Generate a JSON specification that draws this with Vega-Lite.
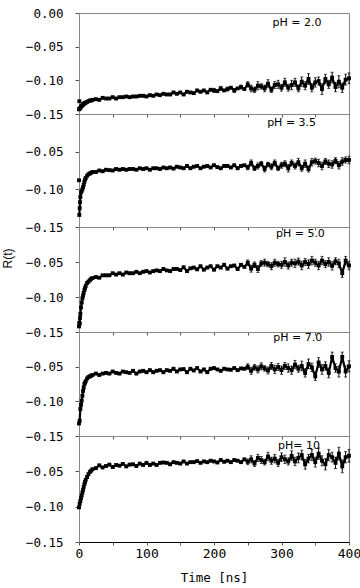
{
"$schema":"https://vega.github.io/schema/vega-lite/v6.json",
"padding":{"left":0,"top":6,"right":0,"bottom":0},
"bounds":"flush",
"spacing":0,
"config":{
 "view":{"stroke":"#888","strokeWidth":1},
 "axis":{"labelFont":"DejaVu Sans Mono","labelColor":"#000","titleFont":"DejaVu Sans Mono","titleFontWeight":"normal","titleColor":"#000","grid":false,"tickColor":"#555","domainColor":"#000"}
},
"datasets":{
"p1":[{"t":0,"r":-0.143},{"t":0.5,"r":-0.131,"o":1},{"t":1,"r":-0.142},{"t":2,"r":-0.141},{"t":3,"r":-0.139},{"t":4,"r":-0.138},{"t":5,"r":-0.137},{"t":6,"r":-0.136},{"t":7,"r":-0.135},{"t":8,"r":-0.134},{"t":9,"r":-0.134},{"t":10,"r":-0.133},{"t":12,"r":-0.132},{"t":14,"r":-0.131},{"t":16,"r":-0.130},{"t":18,"r":-0.130},{"t":20,"r":-0.129},
{"t":25,"r":-0.128},{"t":30,"r":-0.129},{"t":35,"r":-0.126},{"t":40,"r":-0.127},{"t":45,"r":-0.127},{"t":50,"r":-0.125},{"t":55,"r":-0.127},{"t":60,"r":-0.125},{"t":65,"r":-0.125},{"t":70,"r":-0.124},{"t":75,"r":-0.125},{"t":80,"r":-0.124},{"t":85,"r":-0.124},{"t":90,"r":-0.123},{"t":95,"r":-0.123},{"t":100,"r":-0.124},{"t":105,"r":-0.122},{"t":110,"r":-0.123},{"t":115,"r":-0.121},{"t":120,"r":-0.122},{"t":125,"r":-0.120},{"t":130,"r":-0.121},{"t":135,"r":-0.121},{"t":140,"r":-0.118},{"t":145,"r":-0.120},{"t":150,"r":-0.118},{"t":155,"r":-0.121},{"t":160,"r":-0.117},{"t":165,"r":-0.118},{"t":170,"r":-0.119},{"t":175,"r":-0.115},{"t":180,"r":-0.117},{"t":185,"r":-0.115},{"t":190,"r":-0.118},{"t":195,"r":-0.114},{"t":200,"r":-0.115,"e":0.003},{"t":205,"r":-0.116},{"t":210,"r":-0.112,"e":0.003},{"t":215,"r":-0.115},{"t":220,"r":-0.113,"e":0.003},{"t":225,"r":-0.111},{"t":230,"r":-0.115,"e":0.003},{"t":235,"r":-0.112},{"t":240,"r":-0.110,"e":0.003},{"t":245,"r":-0.113},
{"t":250,"r":-0.106,"e":0.004},{"t":255,"r":-0.112,"e":0.005},{"t":260,"r":-0.114,"e":0.004},{"t":265,"r":-0.108,"e":0.006},{"t":270,"r":-0.109,"e":0.004},{"t":275,"r":-0.112,"e":0.005},{"t":280,"r":-0.105,"e":0.006},{"t":285,"r":-0.114,"e":0.004},{"t":290,"r":-0.107,"e":0.005},{"t":295,"r":-0.106,"e":0.006},{"t":300,"r":-0.111,"e":0.005},{"t":305,"r":-0.103,"e":0.006},{"t":310,"r":-0.111,"e":0.005},{"t":315,"r":-0.107,"e":0.007},{"t":320,"r":-0.103,"e":0.006},{"t":325,"r":-0.112,"e":0.005},{"t":330,"r":-0.102,"e":0.007},{"t":335,"r":-0.108,"e":0.006},{"t":340,"r":-0.098,"e":0.008},{"t":345,"r":-0.111,"e":0.006},{"t":350,"r":-0.103,"e":0.007},{"t":355,"r":-0.101,"e":0.006},{"t":360,"r":-0.113,"e":0.008},{"t":365,"r":-0.098,"e":0.007},{"t":370,"r":-0.106,"e":0.006},{"t":375,"r":-0.096,"e":0.008},{"t":380,"r":-0.110,"e":0.007},{"t":385,"r":-0.102,"e":0.009},{"t":390,"r":-0.111,"e":0.007},{"t":395,"r":-0.099,"e":0.008},{"t":400,"r":-0.097,"e":0.008}],
"p2":[{"t":0,"r":-0.088,"o":1},{"t":0.5,"r":-0.134},{"t":1,"r":-0.125},{"t":1.5,"r":-0.117},{"t":2,"r":-0.110},{"t":3,"r":-0.104},{"t":4,"r":-0.102},{"t":5,"r":-0.100},{"t":6,"r":-0.097},{"t":7,"r":-0.094},{"t":8,"r":-0.090},{"t":9,"r":-0.087},{"t":10,"r":-0.085},{"t":12,"r":-0.082},{"t":14,"r":-0.080},{"t":16,"r":-0.079},{"t":18,"r":-0.078},{"t":20,"r":-0.077},
{"t":25,"r":-0.077},{"t":30,"r":-0.075},{"t":35,"r":-0.076},{"t":40,"r":-0.074},{"t":45,"r":-0.0745},{"t":50,"r":-0.075},{"t":55,"r":-0.073},{"t":60,"r":-0.074},{"t":65,"r":-0.073},{"t":70,"r":-0.074},{"t":75,"r":-0.073},{"t":80,"r":-0.073},{"t":85,"r":-0.074},{"t":90,"r":-0.072},{"t":95,"r":-0.073},{"t":100,"r":-0.072},{"t":105,"r":-0.074},{"t":110,"r":-0.072},{"t":115,"r":-0.072},{"t":120,"r":-0.073},{"t":125,"r":-0.071},{"t":130,"r":-0.072},{"t":135,"r":-0.071},{"t":140,"r":-0.0725},{"t":145,"r":-0.070},{"t":150,"r":-0.071},{"t":155,"r":-0.072},{"t":160,"r":-0.069},{"t":165,"r":-0.072},{"t":170,"r":-0.070},{"t":175,"r":-0.069},{"t":180,"r":-0.072},{"t":185,"r":-0.070},{"t":190,"r":-0.069},{"t":195,"r":-0.071},{"t":200,"r":-0.068},{"t":205,"r":-0.0705},{"t":210,"r":-0.072},{"t":215,"r":-0.069},{"t":220,"r":-0.069},{"t":225,"r":-0.071},{"t":230,"r":-0.068},{"t":235,"r":-0.072},{"t":240,"r":-0.069},{"t":245,"r":-0.068},
{"t":250,"r":-0.071,"e":0.003},{"t":255,"r":-0.065,"e":0.004},{"t":260,"r":-0.072,"e":0.003},{"t":265,"r":-0.069,"e":0.004},{"t":270,"r":-0.066,"e":0.003},{"t":275,"r":-0.073,"e":0.004},{"t":280,"r":-0.067,"e":0.003},{"t":285,"r":-0.070,"e":0.004},{"t":290,"r":-0.065,"e":0.004},{"t":295,"r":-0.072,"e":0.003},{"t":300,"r":-0.068,"e":0.004},{"t":305,"r":-0.066,"e":0.004},{"t":310,"r":-0.072,"e":0.005},{"t":315,"r":-0.065,"e":0.004},{"t":320,"r":-0.069,"e":0.004},{"t":325,"r":-0.064,"e":0.005},{"t":330,"r":-0.072,"e":0.004},{"t":335,"r":-0.066,"e":0.005},{"t":340,"r":-0.073,"e":0.004},{"t":345,"r":-0.064,"e":0.005},{"t":350,"r":-0.0625,"e":0.004},{"t":355,"r":-0.065,"e":0.005},{"t":360,"r":-0.069,"e":0.005},{"t":365,"r":-0.063,"e":0.004},{"t":370,"r":-0.066,"e":0.005},{"t":375,"r":-0.067,"e":0.005},{"t":380,"r":-0.062,"e":0.004},{"t":385,"r":-0.068,"e":0.005},{"t":390,"r":-0.063,"e":0.005},{"t":395,"r":-0.061,"e":0.004},{"t":400,"r":-0.061,"e":0.005}],
"p3":[{"t":0,"r":-0.142},{"t":0.5,"r":-0.137},{"t":1,"r":-0.138},{"t":1.5,"r":-0.130},{"t":2,"r":-0.124},{"t":3,"r":-0.115},{"t":4,"r":-0.108},{"t":5,"r":-0.102},{"t":6,"r":-0.098},{"t":7,"r":-0.094},{"t":8,"r":-0.090},{"t":9,"r":-0.087},{"t":10,"r":-0.084},{"t":12,"r":-0.080},{"t":14,"r":-0.078},{"t":16,"r":-0.076},{"t":18,"r":-0.074},{"t":20,"r":-0.073},
{"t":25,"r":-0.0715},{"t":30,"r":-0.0725},{"t":35,"r":-0.069},{"t":40,"r":-0.069},{"t":45,"r":-0.069},{"t":50,"r":-0.066},{"t":55,"r":-0.068},{"t":60,"r":-0.066},{"t":65,"r":-0.068},{"t":70,"r":-0.065},{"t":75,"r":-0.066},{"t":80,"r":-0.066},{"t":85,"r":-0.064},{"t":90,"r":-0.066},{"t":95,"r":-0.064},{"t":100,"r":-0.063},{"t":105,"r":-0.065},{"t":110,"r":-0.063},{"t":115,"r":-0.062},{"t":120,"r":-0.063},{"t":125,"r":-0.060},{"t":130,"r":-0.062},{"t":135,"r":-0.063},{"t":140,"r":-0.060},{"t":145,"r":-0.060},{"t":150,"r":-0.0615},{"t":155,"r":-0.0575},{"t":160,"r":-0.063},{"t":165,"r":-0.059},{"t":170,"r":-0.058},{"t":175,"r":-0.0605},{"t":180,"r":-0.056},{"t":185,"r":-0.061},{"t":190,"r":-0.058},{"t":195,"r":-0.056},{"t":200,"r":-0.061},{"t":205,"r":-0.056},{"t":210,"r":-0.058},{"t":215,"r":-0.054},{"t":220,"r":-0.0595},{"t":225,"r":-0.056},{"t":230,"r":-0.055},{"t":235,"r":-0.060},{"t":240,"r":-0.054},{"t":245,"r":-0.057},
{"t":250,"r":-0.051,"e":0.004},{"t":255,"r":-0.0595,"e":0.005},{"t":260,"r":-0.054,"e":0.004},{"t":265,"r":-0.060,"e":0.005},{"t":270,"r":-0.052,"e":0.004},{"t":275,"r":-0.051,"e":0.005},{"t":280,"r":-0.053,"e":0.004},{"t":285,"r":-0.056,"e":0.005},{"t":290,"r":-0.051,"e":0.005},{"t":295,"r":-0.053,"e":0.004},{"t":300,"r":-0.054,"e":0.005},{"t":305,"r":-0.050,"e":0.006},{"t":310,"r":-0.055,"e":0.005},{"t":315,"r":-0.051,"e":0.005},{"t":320,"r":-0.052,"e":0.006},{"t":325,"r":-0.0495,"e":0.005},{"t":330,"r":-0.055,"e":0.006},{"t":335,"r":-0.050,"e":0.005},{"t":340,"r":-0.053,"e":0.006},{"t":345,"r":-0.048,"e":0.006},{"t":350,"r":-0.051,"e":0.005},{"t":355,"r":-0.055,"e":0.006},{"t":360,"r":-0.048,"e":0.006},{"t":365,"r":-0.053,"e":0.005},{"t":370,"r":-0.050,"e":0.006},{"t":375,"r":-0.0555,"e":0.006},{"t":380,"r":-0.049,"e":0.005},{"t":385,"r":-0.052,"e":0.006},{"t":390,"r":-0.066,"e":0.006},{"t":395,"r":-0.048,"e":0.006},{"t":400,"r":-0.055,"e":0.006}],
"p4":[{"t":0,"r":-0.132},{"t":1,"r":-0.128},{"t":2,"r":-0.111},{"t":3,"r":-0.105},{"t":4,"r":-0.099},{"t":5,"r":-0.092},{"t":6,"r":-0.085},{"t":7,"r":-0.080},{"t":8,"r":-0.075},{"t":9,"r":-0.073},{"t":10,"r":-0.071},{"t":12,"r":-0.067},{"t":14,"r":-0.065},{"t":16,"r":-0.064},{"t":18,"r":-0.063},{"t":20,"r":-0.062},
{"t":25,"r":-0.060},{"t":30,"r":-0.062},{"t":35,"r":-0.060},{"t":40,"r":-0.059},{"t":45,"r":-0.060},{"t":50,"r":-0.057},{"t":55,"r":-0.059},{"t":60,"r":-0.060},{"t":65,"r":-0.057},{"t":70,"r":-0.058},{"t":75,"r":-0.059},{"t":80,"r":-0.056},{"t":85,"r":-0.060},{"t":90,"r":-0.057},{"t":95,"r":-0.056},{"t":100,"r":-0.058},{"t":105,"r":-0.055},{"t":110,"r":-0.058},{"t":115,"r":-0.056},{"t":120,"r":-0.055},{"t":125,"r":-0.058},{"t":130,"r":-0.055},{"t":135,"r":-0.056},{"t":140,"r":-0.053},{"t":145,"r":-0.057},{"t":150,"r":-0.054},{"t":155,"r":-0.0535},{"t":160,"r":-0.058},{"t":165,"r":-0.053},{"t":170,"r":-0.0555},{"t":175,"r":-0.052},{"t":180,"r":-0.057},{"t":185,"r":-0.054},{"t":190,"r":-0.058},{"t":195,"r":-0.053},{"t":200,"r":-0.052},{"t":205,"r":-0.054},{"t":210,"r":-0.056},{"t":215,"r":-0.053},{"t":220,"r":-0.054},{"t":225,"r":-0.0545},{"t":230,"r":-0.052},{"t":235,"r":-0.055},{"t":240,"r":-0.0525},{"t":245,"r":-0.053},
{"t":250,"r":-0.050,"e":0.004},{"t":255,"r":-0.056,"e":0.005},{"t":260,"r":-0.051,"e":0.004},{"t":265,"r":-0.054,"e":0.005},{"t":270,"r":-0.0495,"e":0.005},{"t":275,"r":-0.0525,"e":0.004},{"t":280,"r":-0.0555,"e":0.005},{"t":285,"r":-0.049,"e":0.005},{"t":290,"r":-0.054,"e":0.006},{"t":295,"r":-0.0505,"e":0.005},{"t":300,"r":-0.055,"e":0.006},{"t":305,"r":-0.049,"e":0.005},{"t":310,"r":-0.052,"e":0.006},{"t":315,"r":-0.055,"e":0.006},{"t":320,"r":-0.047,"e":0.006},{"t":325,"r":-0.053,"e":0.005},{"t":330,"r":-0.049,"e":0.007},{"t":335,"r":-0.059,"e":0.006},{"t":340,"r":-0.046,"e":0.007},{"t":345,"r":-0.051,"e":0.006},{"t":350,"r":-0.064,"e":0.006},{"t":355,"r":-0.044,"e":0.007},{"t":360,"r":-0.054,"e":0.007},{"t":365,"r":-0.049,"e":0.006},{"t":370,"r":-0.059,"e":0.007},{"t":375,"r":-0.036,"e":0.007},{"t":380,"r":-0.052,"e":0.006},{"t":385,"r":-0.057,"e":0.008},{"t":390,"r":-0.036,"e":0.007},{"t":395,"r":-0.057,"e":0.008},{"t":400,"r":-0.0495,"e":0.008}],
"p5":[{"t":0,"r":-0.101},{"t":1,"r":-0.096},{"t":2,"r":-0.092},{"t":3,"r":-0.088},{"t":4,"r":-0.084},{"t":5,"r":-0.080},{"t":6,"r":-0.076},{"t":7,"r":-0.072},{"t":8,"r":-0.068},{"t":9,"r":-0.065},{"t":10,"r":-0.062},{"t":12,"r":-0.058},{"t":14,"r":-0.054},{"t":16,"r":-0.051},{"t":18,"r":-0.049},{"t":20,"r":-0.047},
{"t":25,"r":-0.0455},{"t":30,"r":-0.0415},{"t":35,"r":-0.0445},{"t":40,"r":-0.0425},{"t":45,"r":-0.0405},{"t":50,"r":-0.044},{"t":55,"r":-0.041},{"t":60,"r":-0.042},{"t":65,"r":-0.0395},{"t":70,"r":-0.043},{"t":75,"r":-0.0405},{"t":80,"r":-0.040},{"t":85,"r":-0.0425},{"t":90,"r":-0.039},{"t":95,"r":-0.041},{"t":100,"r":-0.038},{"t":105,"r":-0.041},{"t":110,"r":-0.039},{"t":115,"r":-0.041},{"t":120,"r":-0.038},{"t":125,"r":-0.0375},{"t":130,"r":-0.038},{"t":135,"r":-0.040},{"t":140,"r":-0.037},{"t":145,"r":-0.038},{"t":150,"r":-0.039},{"t":155,"r":-0.036},{"t":160,"r":-0.039},{"t":165,"r":-0.037},{"t":170,"r":-0.037},{"t":175,"r":-0.0355},{"t":180,"r":-0.038},{"t":185,"r":-0.036},{"t":190,"r":-0.037},{"t":195,"r":-0.035},{"t":200,"r":-0.036},{"t":205,"r":-0.0375},{"t":210,"r":-0.034},{"t":215,"r":-0.0365},{"t":220,"r":-0.035},{"t":225,"r":-0.037},{"t":230,"r":-0.034},{"t":235,"r":-0.035},{"t":240,"r":-0.037},{"t":245,"r":-0.033},
{"t":250,"r":-0.0365,"e":0.004},{"t":255,"r":-0.033,"e":0.005},{"t":260,"r":-0.039,"e":0.004},{"t":265,"r":-0.031,"e":0.005},{"t":270,"r":-0.034,"e":0.005},{"t":275,"r":-0.037,"e":0.004},{"t":280,"r":-0.029,"e":0.006},{"t":285,"r":-0.035,"e":0.005},{"t":290,"r":-0.032,"e":0.006},{"t":295,"r":-0.038,"e":0.005},{"t":300,"r":-0.030,"e":0.006},{"t":305,"r":-0.033,"e":0.006},{"t":310,"r":-0.036,"e":0.005},{"t":315,"r":-0.028,"e":0.007},{"t":320,"r":-0.036,"e":0.006},{"t":325,"r":-0.031,"e":0.007},{"t":330,"r":-0.027,"e":0.007},{"t":335,"r":-0.040,"e":0.007},{"t":340,"r":-0.032,"e":0.006},{"t":345,"r":-0.027,"e":0.008},{"t":350,"r":-0.037,"e":0.007},{"t":355,"r":-0.025,"e":0.008},{"t":360,"r":-0.035,"e":0.007},{"t":365,"r":-0.040,"e":0.008},{"t":370,"r":-0.027,"e":0.008},{"t":375,"r":-0.030,"e":0.007},{"t":380,"r":-0.038,"e":0.008},{"t":385,"r":-0.025,"e":0.009},{"t":390,"r":-0.043,"e":0.009},{"t":395,"r":-0.030,"e":0.008},{"t":400,"r":-0.028,"e":0.009}]
},
"vconcat":[
{"width":270,"height":101,"data":{"name":"p1"},
 "encoding":{"x":{"field":"t","type":"quantitative","scale":{"domain":[0,400],"nice":false},"axis":{"values":[0,50,100,150,200,250,300,350,400],"labels":false,"title":null,"tickSize":3}},
  "y":{"field":"r","type":"quantitative","scale":{"domain":[-0.15,0],"nice":false},"axis":{"values":[-0.15,-0.1,-0.05,0],"format":".2f","labelFontSize":12.5,"tickSize":4,"labelPadding":12,"title":null,"domainColor":"#888"}}},
 "layer":[
  {"transform":[{"filter":"isValid(datum.e)"}],"mark":{"type":"errorbar","color":"#000","ticks":{"size":3,"color":"#000"}},"encoding":{"yError":{"field":"e"}}},
  {"transform":[{"filter":"!isValid(datum.o)"}],"mark":{"type":"line","color":"#000","strokeWidth":2.2}},
  {"mark":{"type":"square","color":"#000","size":15,"opacity":1,"strokeWidth":0}},
  {"data":{"values":[{"t":323,"r":-0.015,"label":"pH = 2.0"}]},"mark":{"type":"text","font":"DejaVu Sans","fontSize":11,"color":"#000"},"encoding":{"text":{"field":"label"}}}
 ]},
{"width":270,"height":113,"data":{"name":"p2"},
 "encoding":{"x":{"field":"t","type":"quantitative","scale":{"domain":[0,400],"nice":false},"axis":{"values":[0,50,100,150,200,250,300,350,400],"labels":false,"title":null,"tickSize":3}},
  "y":{"field":"r","type":"quantitative","scale":{"domain":[-0.15,0],"nice":false},"axis":{"values":[-0.15,-0.1,-0.05],"format":".2f","labelFontSize":12.5,"tickSize":4,"labelPadding":12,"title":null,"domainColor":"#888"}}},
 "layer":[
  {"transform":[{"filter":"isValid(datum.e)"}],"mark":{"type":"errorbar","color":"#000","ticks":{"size":3,"color":"#000"}},"encoding":{"yError":{"field":"e"}}},
  {"transform":[{"filter":"!isValid(datum.o)"}],"mark":{"type":"line","color":"#000","strokeWidth":2.2}},
  {"mark":{"type":"square","color":"#000","size":15,"opacity":1,"strokeWidth":0}},
  {"data":{"values":[{"t":315,"r":-0.012,"label":"pH = 3.5"}]},"mark":{"type":"text","font":"DejaVu Sans","fontSize":11,"color":"#000"},"encoding":{"text":{"field":"label"}}}
 ]},
{"width":270,"height":105,"data":{"name":"p3"},
 "encoding":{"x":{"field":"t","type":"quantitative","scale":{"domain":[0,400],"nice":false},"axis":{"values":[0,50,100,150,200,250,300,350,400],"labels":false,"title":null,"tickSize":3}},
  "y":{"field":"r","type":"quantitative","scale":{"domain":[-0.15,0],"nice":false},"axis":{"values":[-0.15,-0.1,-0.05],"format":".2f","labelFontSize":12.5,"tickSize":4,"labelPadding":12,"title":"R(t)","titleFont":"Liberation Sans","titleFontSize":12,"titleX":-72,"titleY":31,"titleBaseline":"middle","titleAngle":-90,"domainColor":"#888"}}},
 "layer":[
  {"transform":[{"filter":"isValid(datum.e)"}],"mark":{"type":"errorbar","color":"#000","ticks":{"size":3,"color":"#000"}},"encoding":{"yError":{"field":"e"}}},
  {"transform":[{"filter":"!isValid(datum.o)"}],"mark":{"type":"line","color":"#000","strokeWidth":2.2}},
  {"mark":{"type":"square","color":"#000","size":15,"opacity":1,"strokeWidth":0}},
  {"data":{"values":[{"t":328,"r":-0.010,"label":"pH = 5.0"}]},"mark":{"type":"text","font":"DejaVu Sans","fontSize":11,"color":"#000"},"encoding":{"text":{"field":"label"}}}
 ]},
{"width":270,"height":104,"data":{"name":"p4"},
 "encoding":{"x":{"field":"t","type":"quantitative","scale":{"domain":[0,400],"nice":false},"axis":{"values":[0,50,100,150,200,250,300,350,400],"labels":false,"title":null,"tickSize":3}},
  "y":{"field":"r","type":"quantitative","scale":{"domain":[-0.15,0],"nice":false},"axis":{"values":[-0.15,-0.1,-0.05],"format":".2f","labelFontSize":12.5,"tickSize":4,"labelPadding":12,"title":null,"domainColor":"#888"}}},
 "layer":[
  {"transform":[{"filter":"isValid(datum.e)"}],"mark":{"type":"errorbar","color":"#000","ticks":{"size":3,"color":"#000"}},"encoding":{"yError":{"field":"e"}}},
  {"transform":[{"filter":"!isValid(datum.o)"}],"mark":{"type":"line","color":"#000","strokeWidth":2.2}},
  {"mark":{"type":"square","color":"#000","size":15,"opacity":1,"strokeWidth":0}},
  {"data":{"values":[{"t":324,"r":-0.009,"label":"pH = 7.0"}]},"mark":{"type":"text","font":"DejaVu Sans","fontSize":11,"color":"#000"},"encoding":{"text":{"field":"label"}}}
 ]},
{"width":270,"height":106,"data":{"name":"p5"},
 "encoding":{"x":{"field":"t","type":"quantitative","scale":{"domain":[0,400],"nice":false},"axis":{"values":[0,50,100,150,200,250,300,350,400],"labelExpr":"datum.value % 100 == 0 ? datum.label : ''","labelFlush":false,"labelFontSize":13,"tickSize":3,"labelPadding":2,"title":"Time [ns]","titleFontSize":12.5,"titlePadding":11}},
  "y":{"field":"r","type":"quantitative","scale":{"domain":[-0.15,0],"nice":false},"axis":{"values":[-0.15,-0.1,-0.05],"format":".2f","labelFontSize":12.5,"tickSize":4,"labelPadding":12,"title":null,"domainColor":"#888"}}},
 "layer":[
  {"transform":[{"filter":"isValid(datum.e)"}],"mark":{"type":"errorbar","color":"#000","ticks":{"size":3,"color":"#000"}},"encoding":{"yError":{"field":"e"}}},
  {"transform":[{"filter":"!isValid(datum.o)"}],"mark":{"type":"line","color":"#000","strokeWidth":2.2}},
  {"mark":{"type":"square","color":"#000","size":15,"opacity":1,"strokeWidth":0}},
  {"data":{"values":[{"t":326,"r":-0.0138,"label":"pH= 10"}]},"mark":{"type":"text","font":"DejaVu Sans","fontSize":11,"color":"#000"},"encoding":{"text":{"field":"label"}}}
 ]}
]
}
